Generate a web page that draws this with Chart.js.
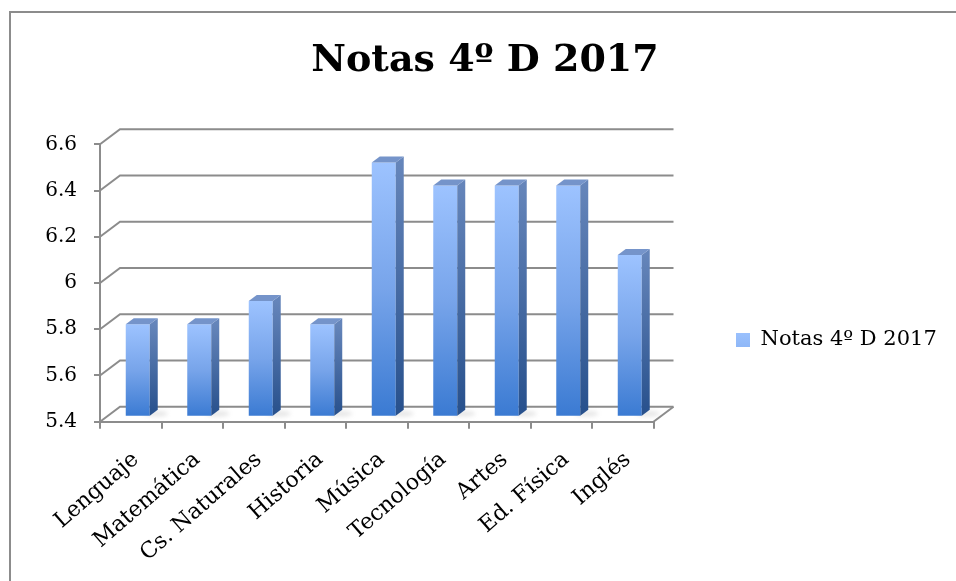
<!DOCTYPE html>
<html>
<head>
<meta charset="utf-8">
<script src="https://cdn.jsdelivr.net/npm/chart.js@4.4.1/dist/chart.umd.min.js"></script>
<style>
html,body{margin:0;padding:0;background:#ffffff;}
canvas{display:block;}
</style>
</head>
<body>
<canvas id="c" width="956" height="581"></canvas>
<script>
// ---- data ----
const categories = ['Lenguaje','Matemática','Cs. Naturales','Historia','Música','Tecnología','Artes','Ed. Física','Inglés'];
const notas = [5.8, 5.8, 5.9, 5.8, 6.5, 6.4, 6.4, 6.4, 6.1];
const seriesName = 'Notas 4º D 2017';
const chartTitle = 'Notas 4º D 2017';
const yTickValues = [5.4, 5.6, 5.8, 6, 6.2, 6.4, 6.6];
const yTickLabels = ['5.4', '5.6', '5.8', '6', '6.2', '6.4', '6.6'];

// ---- style ----
const FONT = 'DejaVu Serif';
const GRID = '#8c8c8c';
const WALL_DX = 20, WALL_DY = -15;
const BAR_SHIFT_X = 7, BAR_SHIFT_Y = -5;
const BAR_DX = 8, BAR_DY = -6;
const LABEL_SHIFT_X = 5;
const LEGEND_BOX_X = 736, LEGEND_BOX_Y = 333;

function legendGradient(ctx) {
  const g = ctx.createLinearGradient(0, LEGEND_BOX_Y, 0, LEGEND_BOX_Y + 14);
  g.addColorStop(0, '#9cc3ff');
  g.addColorStop(1, '#3c7cd3');
  return g;
}

const depthPlugin = {
  id: 'depth3d',
  beforeDraw(chart) {
    const ctx = chart.ctx;
    ctx.save();
    ctx.fillStyle = '#ffffff';
    ctx.fillRect(0, 0, chart.width, chart.height);
    ctx.strokeStyle = '#8c8c8c';
    ctx.lineWidth = 2;
    ctx.beginPath();
    ctx.moveTo(10, chart.height + 10);
    ctx.lineTo(10, 12);
    ctx.lineTo(chart.width + 10, 12);
    ctx.stroke();
    ctx.restore();
  },
  afterLayout(chart) {
    const lg = chart.legend;
    if (lg) {
      const w = lg.width, h = lg.height;
      lg.left = LEGEND_BOX_X - 10;
      lg.right = lg.left + w;
      lg.top = LEGEND_BOX_Y - 3.5 - 10;
      lg.bottom = lg.top + h;
    }
    const tb = chart.titleBlock;
    if (tb) {
      tb.left = 485 - 400;
      tb.right = 485 + 400;
    }
    const xs = chart.scales.x;
    if (xs && !xs._shiftWrapped) {
      const orig = xs.drawLabels.bind(xs);
      xs.drawLabels = function (area) {
        const ctx = this.ctx;
        ctx.save();
        ctx.translate(LABEL_SHIFT_X, 0);
        orig(area);
        ctx.restore();
      };
      xs._shiftWrapped = true;
    }
  },
  beforeDatasetsDraw(chart) {
    const {ctx, chartArea: a, scales: {y}} = chart;
    ctx.save();
    ctx.strokeStyle = GRID;
    ctx.lineWidth = 2;
    ctx.lineJoin = 'miter';
    yTickValues.forEach(v => {
      const py = y.getPixelForValue(v);
      ctx.beginPath();
      ctx.moveTo(a.left, py);
      ctx.lineTo(a.left + WALL_DX, py + WALL_DY);
      ctx.lineTo(a.right + WALL_DX, py + WALL_DY);
      ctx.stroke();
    });
    ctx.beginPath();
    ctx.moveTo(a.right, a.bottom);
    ctx.lineTo(a.right + WALL_DX, a.bottom + WALL_DY);
    ctx.stroke();
    ctx.restore();
    ctx.save();
    ctx.translate(BAR_SHIFT_X, BAR_SHIFT_Y);
    const meta = chart.getDatasetMeta(0);
    meta.data.forEach(el => {
      const {x, base, width} = el.getProps(['x', 'base', 'width'], true);
      if (![x, base, width].every(Number.isFinite)) return;
      ctx.save();
      ctx.fillStyle = 'rgba(120,120,120,0.18)';
      ctx.filter = 'blur(2px)';
      ctx.beginPath();
      ctx.ellipse(x + width / 2 + 6, base - 2, 12, 3, 0, 0, Math.PI * 2);
      ctx.fill();
      ctx.restore();
    });
  },
  afterDatasetsDraw(chart) {
    const ctx = chart.ctx;
    const meta = chart.getDatasetMeta(0);
    meta.data.forEach(el => {
      const {x, y, base, width} = el.getProps(['x', 'y', 'base', 'width'], true);
      if (![x, y, base, width].every(Number.isFinite)) return;
      const l = x - width / 2, r = x + width / 2;
      const gs = ctx.createLinearGradient(0, y, 0, base);
      gs.addColorStop(0, '#6585ba');
      gs.addColorStop(1, '#27508c');
      ctx.fillStyle = gs;
      ctx.beginPath();
      ctx.moveTo(r, y);
      ctx.lineTo(r + BAR_DX, y + BAR_DY);
      ctx.lineTo(r + BAR_DX, base + BAR_DY);
      ctx.lineTo(r, base);
      ctx.closePath();
      ctx.fill();
      ctx.fillStyle = '#7594ca';
      ctx.beginPath();
      ctx.moveTo(l, y);
      ctx.lineTo(l + BAR_DX, y + BAR_DY);
      ctx.lineTo(r + BAR_DX, y + BAR_DY);
      ctx.lineTo(r, y);
      ctx.closePath();
      ctx.fill();
    });
    ctx.restore();
  }
};

new Chart(document.getElementById('c'), {
  type: 'bar',
  data: {
    labels: categories,
    datasets: [{
      label: seriesName,
      data: notas,
      base: yTickValues[0],
      clip: false,
      borderWidth: 0,
      barPercentage: 0.39,
      categoryPercentage: 1,
      backgroundColor: (c) => {
        const chart = c.chart;
        const ys = chart.scales && chart.scales.y;
        if (c.type !== 'data' || !ys) return legendGradient(chart.ctx);
        const top = ys.getPixelForValue(c.raw);
        const base = ys.getPixelForValue(ys.min);
        if (!Number.isFinite(top) || !Number.isFinite(base)) return '#6a9be6';
        const g = chart.ctx.createLinearGradient(0, top, 0, base);
        g.addColorStop(0, '#9dc3ff');
        g.addColorStop(0.5, '#77a4ea');
        g.addColorStop(1, '#3a7ad2');
        return g;
      }
    }]
  },
  options: {
    responsive: false,
    animation: false,
    devicePixelRatio: 1,
    layout: { padding: { left: 0, right: 302.5, top: 0, bottom: 0 } },
    plugins: {
      title: {
        display: true,
        text: chartTitle,
        color: '#000000',
        font: { family: FONT, size: 38, weight: 'bold', lineHeight: 1.2 },
        padding: { top: 38, bottom: 60.7 }
      },
      legend: {
        display: true,
        position: 'chartArea',
        align: 'start',
        labels: {
          boxWidth: 14,
          boxHeight: 14,
          color: '#000000',
          font: { family: FONT, size: 21 },
          padding: 10
        }
      },
      tooltip: { enabled: false }
    },
    scales: {
      x: {
        offset: true,
        grid: { offset: true, drawOnChartArea: false, drawTicks: true, tickLength: 7, color: GRID, lineWidth: 2 },
        border: { display: true, color: GRID, width: 2 },
        ticks: { color: '#000000', font: { family: FONT, size: 22 }, minRotation: 41, maxRotation: 41, padding: 18 },
        afterFit: (s) => { s.height = 581 - 421.7; }
      },
      y: {
        min: 5.4,
        max: 6.6,
        afterBuildTicks: (s) => { s.ticks = yTickValues.map(v => ({ value: v })); },
        grid: { drawOnChartArea: false, drawTicks: true, tickLength: 6, color: GRID, lineWidth: 2 },
        border: { display: true, color: GRID, width: 2 },
        ticks: { color: '#000000', font: { family: FONT, size: 20 }, padding: 17, callback: (v, i) => yTickLabels[i] },
        afterFit: (s) => { s.width = 100; }
      }
    }
  },
  plugins: [depthPlugin]
});
</script>
</body>
</html>
